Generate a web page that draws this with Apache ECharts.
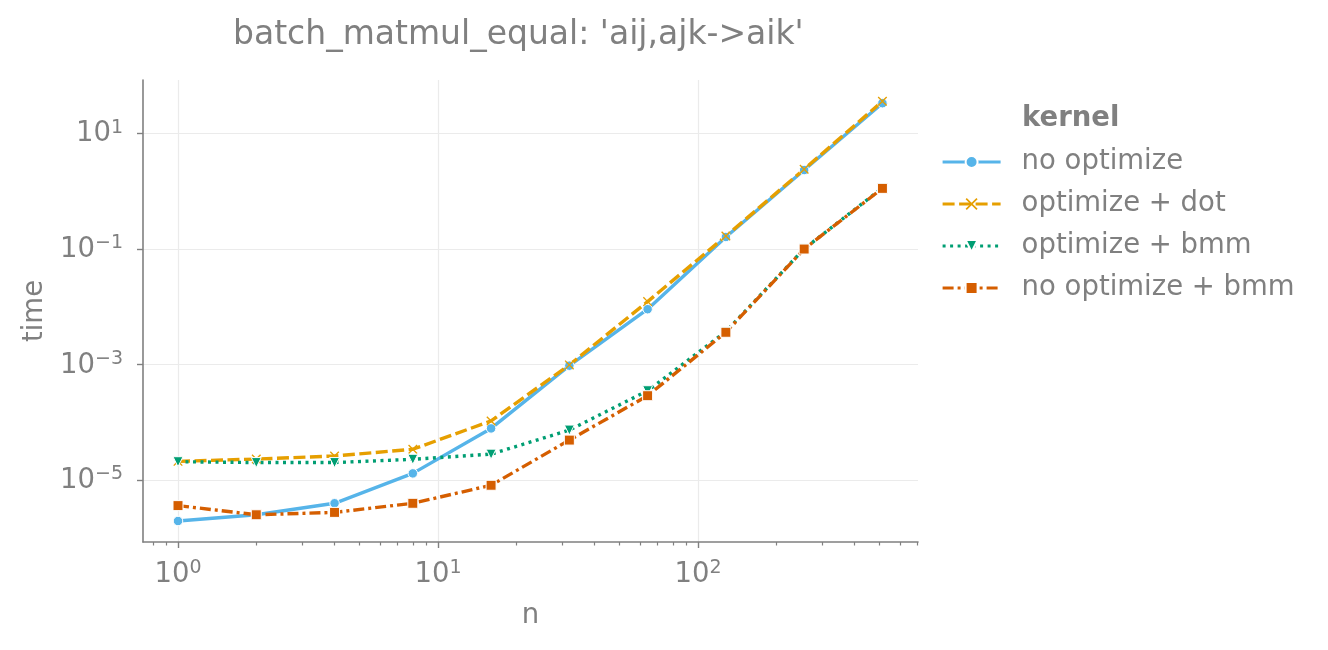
<!DOCTYPE html>
<html>
<head>
<meta charset="utf-8">
<script src="https://cdn.jsdelivr.net/npm/echarts@6/dist/echarts.min.js"></script>
<style>
  html, body { margin: 0; padding: 0; background: #fff; }
  #chart { width: 1328px; height: 650px; }
</style>
</head>
<body>
<div id="chart"></div>
<script>
// problem sizes (x) and timings per kernel (y)
var nValues = [1, 2, 4, 8, 16, 32, 64, 128, 256, 512];
var noOptimize = [1.95e-6, 2.5e-6, 3.95e-6, 1.3e-5, 7.8e-5, 9.5e-4, 9.0e-3, 0.16, 2.3, 33];
var optimizeDot = [2.1e-5, 2.3e-5, 2.6e-5, 3.4e-5, 1.05e-4, 9.8e-4, 1.22e-2, 0.166, 2.38, 35.6];
var optimizeBmm = [2.07e-5, 2.0e-5, 2.0e-5, 2.28e-5, 2.8e-5, 7.3e-5, 3.5e-4, 3.7e-3, 0.1, 1.13];
var noOptimizeBmm = [3.6e-6, 2.5e-6, 2.75e-6, 3.95e-6, 8.1e-6, 4.9e-5, 2.87e-4, 3.59e-3, 0.099, 1.11];

var seriesNames = ['no optimize', 'optimize + dot', 'optimize + bmm', 'no optimize + bmm'];
var xMajorTicks = [1, 10, 100];
var xMinorTicks = [0.8, 0.9, 2, 3, 4, 5, 6, 7, 8, 9, 20, 30, 40, 50, 60, 70, 80, 90, 200, 300, 400, 500, 600, 700];
var yMajorTicks = [1e-5, 1e-3, 1e-1, 1e1];

var FONT = 'DejaVu Sans';
var GREY = '#808080';

function pairs(ys) {
	return nValues.map(function (n, i) { return [n, ys[i]]; });
}

function powLabel(v) {
	var e = Math.round(Math.log10(v));
	var s = e < 0 ? '\u2212' + (-e) : '' + e;
	return '{b|10}{s|' + s + '}';
}

var richPow = {
	b: { fontFamily: FONT, fontSize: 27.5, color: GREY, lineHeight: 30, verticalAlign: 'bottom' },
	s: { fontFamily: FONT, fontSize: 19, color: GREY, lineHeight: 20, verticalAlign: 'top' }
};

var crossPath = 'path://M1,0 L5,4 L9,0 L10,1 L6,5 L10,9 L9,10 L5,6 L1,10 L0,9 L4,5 L0,1 Z';

var chart = echarts.init(document.getElementById('chart'), null, { renderer: 'canvas' });

var option = {
	backgroundColor: '#fff',
	animation: false,
	title: [
		{
			text: "batch_matmul_equal: 'aij,ajk->aik'",
			left: 228, top: 14,
			textStyle: { fontFamily: FONT, fontSize: 33, fontWeight: 'normal', color: GREY }
		},
		{
			text: 'kernel',
			left: 1017, top: 100,
			textStyle: { fontFamily: FONT, fontSize: 27.5, fontWeight: 'bold', color: GREY }
		}
	],
	legend: {
		orient: 'vertical',
		left: 936, top: 142,
		itemWidth: 58, itemHeight: 15, itemGap: 12,
		lineStyle: { width: 3.2 },
		textStyle: { fontFamily: FONT, fontSize: 27.5, lineHeight: 30, color: GREY, padding: [0, 0, 0, 16] },
		data: seriesNames
	},
	grid: { left: 143, right: 410, top: 80, bottom: 108, containLabel: false },
	xAxis: [
		{
			type: 'log', logBase: 10,
			min: 0.7334, max: 701.6,
			name: 'n', nameLocation: 'middle', nameGap: 60,
			nameTextStyle: { fontFamily: FONT, fontSize: 27.5, color: GREY },
			axisLine: { show: true, onZero: false, lineStyle: { color: GREY, width: 1.6 } },
			axisTick: { show: true, length: 6, customValues: xMajorTicks, lineStyle: { color: GREY, width: 1.4 } },
			axisLabel: { customValues: xMajorTicks, margin: 17, formatter: powLabel, rich: richPow },
			splitLine: { show: true, lineStyle: { color: '#ebebeb', width: 1.2 } },
			minorTick: { show: false }
		},
		{
			type: 'log', logBase: 10,
			min: 0.7334, max: 701.6,
			position: 'bottom',
			axisLine: { show: false },
			axisTick: { show: true, length: 3.5, customValues: xMinorTicks, lineStyle: { color: GREY, width: 1.2 } },
			axisLabel: { show: false },
			splitLine: { show: false }
		}
	],
	yAxis: {
		type: 'log', logBase: 10,
		min: 8.45e-7, max: 83.2,
		name: 'time', nameLocation: 'middle', nameGap: 94,
		nameTextStyle: { fontFamily: FONT, fontSize: 27.5, color: GREY },
		axisLine: { show: true, onZero: false, lineStyle: { color: GREY, width: 1.6 } },
		axisTick: { show: true, length: 6, customValues: yMajorTicks, lineStyle: { color: GREY, width: 1.4 } },
		axisLabel: { customValues: yMajorTicks, margin: 20, formatter: powLabel, rich: richPow },
		splitLine: { show: true, lineStyle: { color: '#ebebeb', width: 1.2 } },
		minorTick: { show: false }
	},
	series: [
		{
			name: seriesNames[0], type: 'line', data: pairs(noOptimize),
			color: '#56B4E9',
			symbol: 'circle', symbolSize: 9.5,
			lineStyle: { width: 3.4, type: 'solid' },
			itemStyle: { color: '#56B4E9', borderColor: '#fff', borderWidth: 1 }
		},
		{
			name: seriesNames[1], type: 'line', data: pairs(optimizeDot),
			color: '#E69F00',
			symbol: crossPath, symbolSize: 9.5,
			lineStyle: { width: 3.4, type: [12, 4.5] },
			itemStyle: { color: '#E69F00', borderWidth: 0 }
		},
		{
			name: seriesNames[2], type: 'line', data: pairs(optimizeBmm),
			color: '#009E73',
			symbol: 'triangle', symbolRotate: 180, symbolSize: 10,
			lineStyle: { width: 3.4, type: [3, 4.5] },
			itemStyle: { color: '#009E73', borderColor: '#fff', borderWidth: 1 }
		},
		{
			name: seriesNames[3], type: 'line', data: pairs(noOptimizeBmm),
			color: '#D55E00',
			symbol: 'rect', symbolSize: 10,
			lineStyle: { width: 3.4, type: [11, 4, 3, 4] },
			itemStyle: { color: '#D55E00', borderColor: '#fff', borderWidth: 1 }
		}
	]
};

chart.setOption(option);
</script>
</body>
</html>
